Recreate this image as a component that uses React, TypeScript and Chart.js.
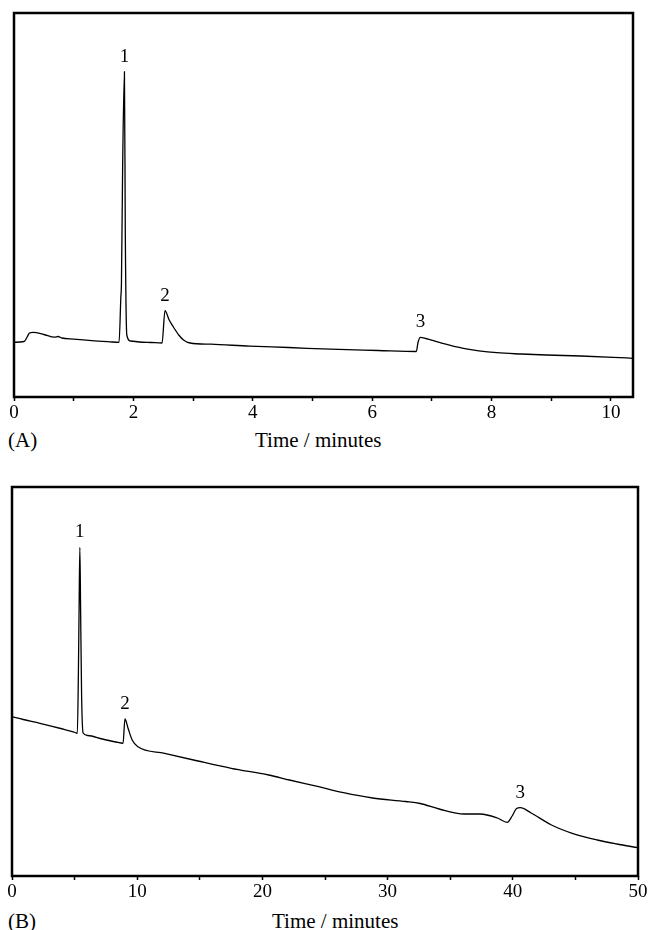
import React, { useEffect, useRef } from 'react';
import { Chart, registerables } from 'chart.js';

Chart.register(...registerables);

// ---------- Chromatogram (A) ----------
const timeA = [0, 0.17, 0.22, 0.26, 0.32, 0.5, 0.68, 0.74, 0.8, 1.0, 1.3, 1.6, 1.76, 1.79, 1.8, 1.82, 1.85, 1.865, 1.89, 1.95, 2.1, 2.3, 2.48, 2.53, 2.6, 2.67, 2.76, 2.84, 2.95, 3.3, 3.95, 4.6, 5.3, 6.1, 6.74, 6.77, 6.81, 6.9, 7.14, 7.53, 8.09, 8.5, 8.92, 9.5, 10.04, 10.37];
const signalA = [54.7, 55.5, 60, 64, 64.7, 62.5, 59.8, 60.5, 59, 57.8, 56.3, 55.2, 54.7, 100, 113.7, 230, 325.3, 160, 62, 56, 55, 54.5, 54, 86.3, 77, 70, 62, 57, 54, 52.8, 50.8, 49.5, 47.8, 46.5, 45.5, 55, 59.7, 58.5, 54.3, 48.7, 44.3, 43, 42, 41, 39.7, 38.7];
const ticksA = [0, 1, 2, 3, 4, 5, 6, 7, 8, 9, 10];
const tickLabelsA = [0, 2, 4, 6, 8, 10];
const peakTimesA = [1.85, 2.53, 6.81];
const peakNamesA = ['1', '2', '3'];

// ---------- Chromatogram (B) ----------
const timeB = [0, 0.9, 2.23, 3.89, 5.05, 5.22, 5.3, 5.36, 5.42, 5.48, 5.56, 5.68, 6.05, 7.21, 8.3, 8.87, 9.02, 9.27, 9.6, 10.03, 12.19, 14.85, 17.51, 20.5, 22.16, 24.49, 26.48, 28.8, 31.46, 32.6, 34.12, 36.1, 37.4, 38.77, 39.55, 39.95, 40.3, 40.6, 41.43, 43.09, 44.75, 46.74, 48.3, 50];
const signalB = [159.3, 156.5, 152.7, 147.5, 143.5, 142.7, 200, 269, 328.7, 266, 180, 143, 140.5, 137, 134, 132.7, 157, 147.7, 136, 129.5, 122.7, 115, 107.7, 101, 96, 89.3, 83.3, 78, 74.5, 72.5, 67, 62, 62, 58, 53.7, 60, 67.5, 68.3, 63.3, 51, 42.7, 36, 32, 28.3];
const ticksB = [0, 5, 10, 15, 20, 25, 30, 35, 40, 45, 50];
const tickLabelsB = [0, 10, 20, 30, 40, 50];
const peakTimesB = [5.42, 9.02, 40.6];
const peakNamesB = ['1', '2', '3'];

const SERIF = '"Liberation Serif", "Times New Roman", serif';

type PanelProps = {
  time: number[];
  signal: number[];
  xMax: number;
  yMax: number;
  tickValues: number[];
  tickLabels: number[];
  peakTimes: number[];
  peakNames: string[];
  width: number;
  height: number;
  padLeft: number;
  padRight: number;
  padTop: number;
  axisHeight: number;
  top: number;
};

function Panel(p: PanelProps) {
  const ref = useRef<HTMLCanvasElement | null>(null);
  useEffect(() => {
    if (!ref.current) return;
    const framePlugin = {
      id: 'frame',
      afterDraw(chart: any) {
        const { ctx, chartArea } = chart;
        ctx.save();
        ctx.strokeStyle = '#000';
        ctx.lineWidth = 2.5;
        ctx.strokeRect(chartArea.left, chartArea.top, chartArea.right - chartArea.left, chartArea.bottom - chartArea.top);
        ctx.restore();
      },
    };
    const peakLabelPlugin = {
      id: 'peakLabels',
      afterDatasetsDraw(chart: any) {
        const { ctx } = chart;
        const xs = chart.scales.x;
        const ys = chart.scales.y;
        ctx.save();
        ctx.fillStyle = '#000';
        ctx.font = `19px ${SERIF}`;
        ctx.textAlign = 'center';
        ctx.textBaseline = 'middle';
        p.peakTimes.forEach((t, i) => {
          const idx = p.time.indexOf(t);
          const v = p.signal[idx];
          ctx.fillText(p.peakNames[i], xs.getPixelForValue(t), ys.getPixelForValue(v) - 15);
        });
        ctx.restore();
      },
    };
    const chart = new Chart(ref.current, {
      type: 'line',
      data: {
        datasets: [
          {
            data: p.time.map((t, i) => ({ x: t, y: p.signal[i] })),
            borderColor: '#000',
            borderWidth: 1.3,
            pointRadius: 0,
            cubicInterpolationMode: 'monotone',
            fill: false,
          },
        ],
      },
      options: {
        responsive: false,
        animation: false,
        events: [],
        layout: { padding: { left: p.padLeft, right: p.padRight, top: p.padTop, bottom: 0 } },
        plugins: { legend: { display: false }, tooltip: { enabled: false }, title: { display: false } },
        scales: {
          x: {
            type: 'linear',
            min: 0,
            max: p.xMax,
            afterBuildTicks: (scale: any) => {
              scale.ticks = p.tickValues.map((v) => ({ value: v }));
            },
            afterFit: (scale: any) => {
              scale.height = p.axisHeight;
            },
            border: { display: false },
            grid: {
              display: true,
              drawOnChartArea: false,
              drawTicks: true,
              tickLength: 4,
              tickColor: '#000',
              tickWidth: 1.5,
            },
            ticks: {
              autoSkip: false,
              maxRotation: 0,
              padding: 1,
              color: '#000',
              font: { family: SERIF, size: 19 },
              callback: (value: any) => (p.tickLabels.includes(Number(value)) ? String(value) : ''),
            },
          },
          y: {
            type: 'linear',
            display: false,
            min: 0,
            max: p.yMax,
          },
        },
      },
      plugins: [framePlugin, peakLabelPlugin],
    });
    return () => chart.destroy();
  }, []);
  return (
    <canvas
      ref={ref}
      width={p.width}
      height={p.height}
      style={{ position: 'absolute', left: 0, top: p.top, width: p.width, height: p.height }}
    />
  );
}

const textStyle: React.CSSProperties = {
  position: 'absolute',
  fontFamily: SERIF,
  fontSize: 21,
  lineHeight: '20px',
  color: '#000',
  whiteSpace: 'nowrap',
};

export default function App() {
  return (
    <div style={{ position: 'fixed', left: 0, top: 0, width: 651, height: 930, background: '#fff', overflow: 'hidden' }}>
      <Panel
        time={timeA}
        signal={signalA}
        xMax={10.37}
        yMax={384}
        tickValues={ticksA}
        tickLabels={tickLabelsA}
        peakTimes={peakTimesA}
        peakNames={peakNamesA}
        width={651}
        height={425}
        padLeft={14}
        padRight={18}
        padTop={13}
        axisHeight={28}
        top={0}
      />
      <span style={{ ...textStyle, left: 8, top: 430 }}>(A)</span>
      <span style={{ ...textStyle, left: 255, top: 430 }}>Time / minutes</span>
      <Panel
        time={timeB}
        signal={signalB}
        xMax={50}
        yMax={389}
        tickValues={ticksB}
        tickLabels={tickLabelsB}
        peakTimes={peakTimesB}
        peakNames={peakNamesB}
        width={651}
        height={445}
        padLeft={12}
        padRight={13}
        padTop={27}
        axisHeight={29}
        top={460}
      />
      <span style={{ ...textStyle, left: 8, top: 911 }}>(B)</span>
      <span style={{ ...textStyle, left: 272, top: 911 }}>Time / minutes</span>
    </div>
  );
}
